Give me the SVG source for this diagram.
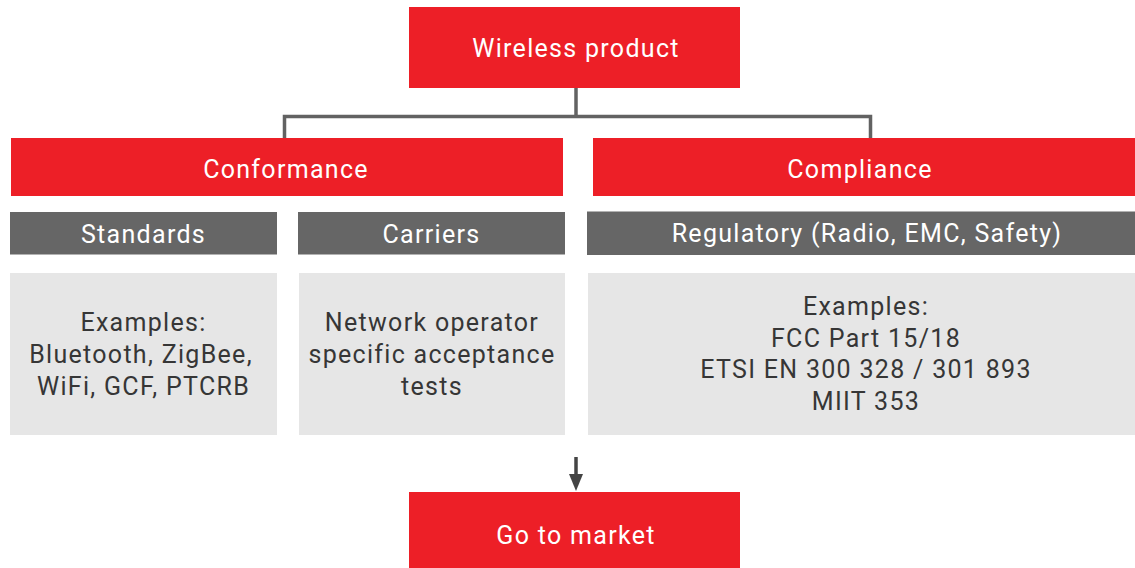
<svg xmlns="http://www.w3.org/2000/svg" width="1135" height="568" viewBox="0 0 1135 568">
<defs>
<style>
.red{fill:#ED1F27}
.dark{fill:#666666}
.light{fill:#E6E6E6}
text{font-family:Roboto,"Liberation Sans",sans-serif;font-size:25px;letter-spacing:1.3px;text-anchor:middle}
.w{fill:#FFFFFF}
.t{fill:#363636}
.conn{fill:none;stroke:#626262;stroke-width:3.5}
</style>
<marker id="arr" markerWidth="14" markerHeight="18" refX="7" refY="17" orient="auto" markerUnits="userSpaceOnUse" viewBox="0 0 14 18">
<path d="M0,0 L14,0 L7,17 Z" fill="#444444"/>
</marker>
</defs>
<rect width="1135" height="568" fill="#FFFFFF"/>
<g id="connectors">
<path class="conn" d="M576,88 V116.5"/>
<path class="conn" d="M284.5,139 V116.5 H870.5 V139"/>
<path d="M576,457 V474" stroke="#444444" stroke-width="3.5" fill="none"/>
<path d="M569,474 L583,474 L576,491 Z" fill="#444444"/>
</g>
<g id="wireless">
<rect class="red" x="409" y="7" width="331" height="81"/>
<text class="w" x="576" y="57">Wireless product</text>
</g>
<g id="conformance">
<rect class="red" x="11" y="138" width="552" height="58"/>
<text class="w" x="286" y="178">Conformance</text>
</g>
<g id="compliance">
<rect class="red" x="593" y="138" width="542" height="58"/>
<text class="w" x="860" y="177.5">Compliance</text>
</g>
<g id="standards">
<rect class="dark" x="10" y="212" width="267" height="42.5"/>
<text class="w" x="143.5" y="242.5">Standards</text>
</g>
<g id="carriers">
<rect class="dark" x="298" y="212" width="267" height="42.5"/>
<text class="w" x="431.5" y="242.5">Carriers</text>
</g>
<g id="regulatory">
<rect class="dark" x="587" y="211.5" width="548" height="43.5"/>
<text class="w" x="867" y="242">Regulatory (Radio, EMC, Safety)</text>
</g>
<g id="standards-examples">
<rect class="light" x="10" y="273" width="267" height="162"/>
<text class="t" x="143.5" y="331">Examples:</text>
<text class="t" x="141" y="363">Bluetooth, ZigBee,</text>
<text class="t" x="143.5" y="395">WiFi, GCF, PTCRB</text>
</g>
<g id="carriers-examples">
<rect class="light" x="299" y="273" width="266" height="162"/>
<text class="t" x="432" y="331">Network operator</text>
<text class="t" x="432" y="363">specific acceptance</text>
<text class="t" x="432" y="395">tests</text>
</g>
<g id="regulatory-examples">
<rect class="light" x="588" y="273" width="547" height="162"/>
<text class="t" x="866" y="314.5">Examples:</text>
<text class="t" x="866" y="346.5">FCC Part 15/18</text>
<text class="t" x="866" y="378.3">ETSI EN 300 328 / 301 893</text>
<text class="t" x="866" y="410">MIIT 353</text>
</g>
<g id="market">
<rect class="red" x="409" y="492" width="331" height="76"/>
<text class="w" x="576" y="544">Go to market</text>
</g>
</svg>
